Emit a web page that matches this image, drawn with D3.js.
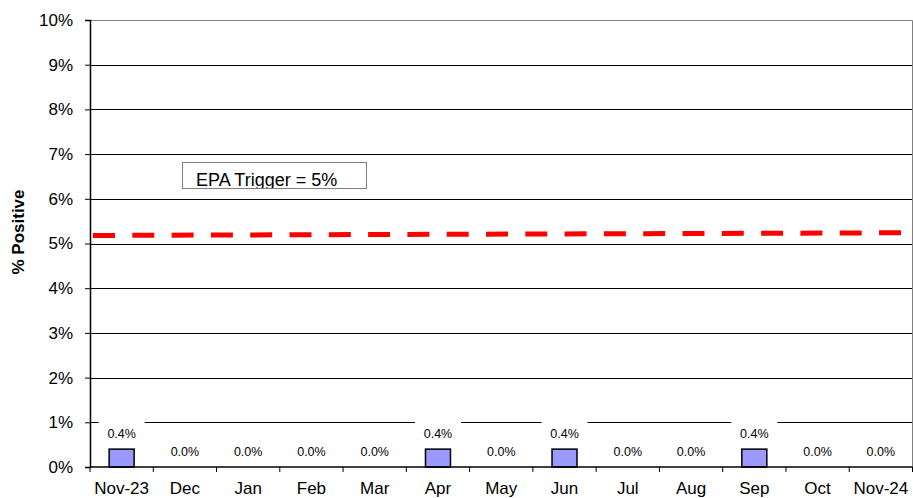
<!DOCTYPE html>
<html>
<head>
<meta charset="utf-8">
<script src="https://cdn.jsdelivr.net/npm/d3@7"></script>
<style>
  body { margin: 0; background: #fff; }
  svg { display: block; font-family: Arial, "Liberation Sans", sans-serif; }
</style>
</head>
<body>
<div id="chart"></div>
<script>
var width = 913,
  height = 498;

// monthly categories and % positive
var months = ["Nov-23", "Dec", "Jan", "Feb", "Mar", "Apr", "May", "Jun", "Jul", "Aug", "Sep", "Oct", "Nov-24"];
var positive = [0.4, 0.0, 0.0, 0.0, 0.0, 0.4, 0.0, 0.4, 0.0, 0.0, 0.4, 0.0, 0.0];
var yTicks = [0, 1, 2, 3, 4, 5, 6, 7, 8, 9, 10];
// trigger line, start and end of the plot width
var triggerPos = [0, 1];
var triggerVal = [5.18, 5.24];
var triggerLabel = "EPA Trigger = 5%";

var margin = {top: 20, right: 0.5, bottom: 31, left: 90};
var w = width - margin.left - margin.right,
  h = height - margin.top - margin.bottom;

var svg = d3.select("#chart").append("svg")
  .attr("width", width)
  .attr("height", height);

var g = svg.append("g")
  .attr("transform", "translate(" + margin.left + "," + margin.top + ")");

var x = d3.scaleBand().domain(months).range([0, w]);
var y = d3.scaleLinear().domain([0, 10]).range([h, 0]);
var xt = d3.scaleLinear().domain([0, 1]).range([3, w - 4]);

// gridlines
g.append("g")
  .selectAll("line")
  .data(yTicks.filter(function(d) { return d > 0 && d < 10; }))
  .enter().append("line")
  .attr("x1", 0)
  .attr("x2", w)
  .attr("y1", function(d) { return Math.round(y(d)) + 0.5; })
  .attr("y2", function(d) { return Math.round(y(d)) + 0.5; })
  .attr("stroke", "#000")
  .attr("stroke-width", 1);

// plot border top / right
g.append("path")
  .attr("d", "M0," + 0.5 + "H" + w + "V" + h)
  .attr("fill", "none")
  .attr("stroke", "#808080")
  .attr("stroke-width", 1);

// bars
var bw = 25;
g.append("g")
  .selectAll("rect")
  .data(positive)
  .enter().append("rect")
  .attr("x", function(d, i) { return x(months[i]) + x.bandwidth() / 2 - bw / 2; })
  .attr("y", function(d) { return y(d); })
  .attr("width", bw)
  .attr("height", function(d) { return h - y(d); })
  .attr("fill", "#9999ff")
  .attr("stroke", "#000")
  .attr("stroke-width", 1.5);

// data labels with white background
var labels = g.append("g")
  .selectAll("g")
  .data(positive)
  .enter().append("g")
  .attr("transform", function(d, i) {
    return "translate(" + (x(months[i]) + x.bandwidth() / 2) + "," + (y(d) - 11) + ")";
  });
labels.append("rect")
  .attr("x", -23)
  .attr("y", -18)
  .attr("width", 46)
  .attr("height", 23)
  .attr("fill", d => d > 0 ? "#fff" : "none");
labels.append("text")
  .attr("text-anchor", "middle")
  .attr("font-size", "12.5px")
  .attr("fill", "#000")
  .text(function(d) { return d.toFixed(1) + "%"; });

// trigger line
var line = d3.line()
  .x(function(d, i) { return xt(triggerPos[i]); })
  .y(function(d) { return y(d); });
g.append("path")
  .datum(triggerVal)
  .attr("d", line)
  .attr("fill", "none")
  .attr("stroke", "#ff0000")
  .attr("stroke-width", 5)
  .attr("stroke-dasharray", "22,17.3");

// trigger label box
var lb = g.append("g").attr("transform", "translate(92,142)");
lb.append("clipPath").attr("id", "lbclip")
  .append("rect").attr("width", 184).attr("height", 26);
lb.append("rect")
  .attr("width", 184).attr("height", 26)
  .attr("fill", "#fff");
lb.append("text")
  .attr("clip-path", "url(#lbclip)")
  .attr("x", 14)
  .attr("y", 24)
  .attr("font-size", "18px")
  .text(triggerLabel);
lb.append("rect")
  .attr("x", 0.5).attr("y", 0.5)
  .attr("width", 184).attr("height", 26)
  .attr("fill", "none")
  .attr("stroke", "#808080");

// y axis
var yAxis = g.append("g")
  .call(d3.axisLeft(y).tickValues(yTicks).tickSize(5).tickPadding(12)
    .tickFormat(function(d) { return d + "%"; }));
yAxis.select(".domain").attr("stroke", "#000").attr("stroke-width", 1.5);
yAxis.selectAll(".tick line").attr("stroke", "#000");
yAxis.selectAll("text").attr("font-size", "17px").attr("font-family", null).attr("fill", "#000");

// x axis, ticks at category boundaries
var xAxis = g.append("g").attr("transform", "translate(0," + h + ")");
xAxis.append("line")
  .attr("x1", 0).attr("x2", w)
  .attr("stroke", "#000").attr("stroke-width", 1.5);
xAxis.selectAll(".xtick")
  .data(months.concat(["end"]))
  .enter().append("line")
  .attr("class", "xtick")
  .attr("x1", function(d, i) { return i * x.step(); })
  .attr("x2", function(d, i) { return i * x.step(); })
  .attr("y1", 0).attr("y2", 5)
  .attr("stroke", "#000");
xAxis.selectAll("text")
  .data(months)
  .enter().append("text")
  .attr("x", function(d) { return x(d) + x.bandwidth() / 2; })
  .attr("y", 27)
  .attr("text-anchor", "middle")
  .attr("font-size", "17px")
  .text(function(d) { return d; });

// y title
svg.append("text")
  .attr("transform", "translate(24,232) rotate(-90)")
  .attr("text-anchor", "middle")
  .attr("font-size", "17px")
  .attr("font-weight", "bold")
  .text("% Positive");
</script>
</body>
</html>
